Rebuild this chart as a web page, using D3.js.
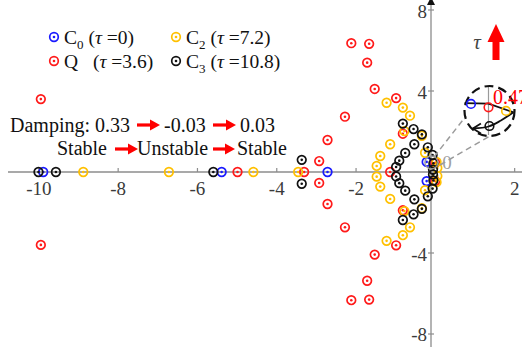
<!DOCTYPE html>
<html>
<head>
<meta charset="utf-8">
<script src="https://cdn.jsdelivr.net/npm/d3@7"></script>
<style>
  html, body { margin: 0; padding: 0; background: #fff; }
  svg { display: block; font-family: "Liberation Serif", "Times New Roman", serif; }
</style>
</head>
<body>
<svg id="chart" width="522" height="347"></svg>
<script>
// Axis ticks
const xTicks = [-10, -8, -6, -4, -2, 2];
const yTicks = [8, 4, -4, -8];

// Closed-loop poles [real, imag] for each delay
const c0Poles = [[-9.89, 0], [-5.39, 0], [-2.72, 0], [-0.22, 0.5], [-0.22, -0.45]];
const qPoles = [
  [-9.95, 3.6], [-9.95, -3.6], [-4.99, 0], [-3.31, 0], [-2.93, 0.54], [-2.93, -0.54],
  [-2.72, 1.58], [-2.72, -1.58], [-2.28, 2.73], [-2.28, -2.73], [-2.12, 6.36], [-2.12, -6.33],
  [-1.67, 6.33], [-1.67, -6.3], [-1.72, 5.4], [-1.72, -5.37], [-1.53, 4.1], [-1.53, -4.08],
  [-0.99, 3.65], [-0.99, -3.62], [-1.14, 0], [-0.82, 1.89], [-0.82, -1.89], [0.0, 0.45], [0.0, -0.45]
];
const c2Poles = [
  [-8.88, 0], [-6.72, 0], [-4.59, 0], [-3.46, 0],
  [-1.23, 3.42], [-1.23, -3.4], [-0.82, 3.18], [-0.82, -3.12], [-0.64, 2.78], [-0.64, -2.73],
  [-0.78, 2.02], [-0.78, -1.93], [-0.34, 1.79], [-0.34, -1.79], [-1.14, 1.37], [-1.14, -1.33],
  [-1.39, 0.79], [-1.39, -0.72], [-1.48, 0.3], [-1.48, -0.23], [-0.26, 0.95], [-0.26, -0.9],
  [0.03, 0.5], [0.03, -0.5], [0.05, 0.2], [0.05, -0.2]
];
const c3Poles = [
  [-10.01, 0], [-9.57, 0], [-5.6, 0], [-3.37, 0.6], [-3.37, -0.58],
  [-0.82, 2.39], [-0.82, -2.37], [-0.55, 2.12], [-0.55, -2.09], [-0.34, 1.86], [-0.34, -1.82],
  [-0.53, 1.37], [-0.53, -1.35], [-0.76, 0.94], [-0.76, -0.92], [-0.91, 0.56], [-0.91, -0.55],
  [-0.99, 0.25], [-0.99, -0.22], [-0.19, 1.22], [-0.19, -1.2], [-0.07, 0.84], [-0.07, -0.82],
  [-0.05, 0.43], [-0.05, -0.42], [-0.06, 0.12], [-0.06, -0.12]
];

const seriesColors = ["#1a1aff", "#ff1a1a", "#ffc000", "#111111"];
const seriesNames = ["C", "Q", "C", "C"];
const seriesSubs = ["0", "", "2", "3"];
const seriesTaus = ["0", "3.6", "7.2", "10.8"];

// Magnified view of the critical pole pair near the imaginary axis
const insetPoles = [[-0.073, 0.484], [0, 0.47], [0.073, 0.455], [0.004, 0.392]];
const insetTrackTop = [[-0.1, 0.487], [0.0, 0.485], [0.104, 0.449]];
const insetTrackBack = [[0.104, 0.449], [0.05, 0.414], [0.0, 0.39], [-0.065, 0.382]];
const insetLabel = "0.47";

const svg = d3.select("#chart");
const W = 522, H = 347;

const x = d3.scaleLinear().domain([-10.98, 2.185]).range([0, W]);
const y = d3.scaleLinear().domain([8.494, -8.642]).range([0, H]);
const yAxisAt = -0.11;

const axisGray = "#8c8c8c";
const labelGray = "#3a3a3a";

// Axes
const axes = svg.append("g");
axes.append("line")
  .attr("x1", 8).attr("x2", W).attr("y1", y(0)).attr("y2", y(0))
  .attr("stroke", axisGray).attr("stroke-width", 1.3);
axes.append("line")
  .attr("x1", x(yAxisAt)).attr("x2", x(yAxisAt)).attr("y1", 0).attr("y2", H)
  .attr("stroke", axisGray).attr("stroke-width", 1.3);
axes.append("path")
  .attr("d", `M${x(yAxisAt)},-3 L${x(yAxisAt) - 4},5 L${x(yAxisAt) + 4},5 Z`)
  .attr("fill", "#111");

axes.selectAll(".xt").data(xTicks).enter().append("line")
  .attr("x1", d => x(d)).attr("x2", d => x(d))
  .attr("y1", y(0)).attr("y2", y(0) - 4)
  .attr("stroke", axisGray).attr("stroke-width", 1.2);
axes.selectAll(".xl").data(xTicks).enter().append("text")
  .attr("x", d => x(d)).attr("y", y(0) + 23)
  .attr("text-anchor", "middle").attr("font-size", 19).attr("fill", labelGray)
  .text(d => d);

axes.selectAll(".yt").data(yTicks).enter().append("line")
  .attr("x1", x(yAxisAt) - 3).attr("x2", x(yAxisAt) + 3)
  .attr("y1", d => y(d)).attr("y2", d => y(d))
  .attr("stroke", axisGray).attr("stroke-width", 1.2);
axes.selectAll(".yl").data(yTicks).enter().append("text")
  .attr("x", x(yAxisAt) - 4).attr("y", d => y(d) + 7.5)
  .attr("text-anchor", "end").attr("font-size", 19).attr("fill", labelGray)
  .text(d => d);

// Pole markers: ring with a centre dot
function drawPoles(data, color) {
  const g = svg.append("g");
  const m = g.selectAll("g").data(data).enter().append("g")
    .attr("transform", d => `translate(${x(d[0])},${y(d[1])})`);
  m.append("circle").attr("r", 4.3).attr("fill", "none")
    .attr("stroke", color).attr("stroke-width", 1.7);
  m.append("circle").attr("r", 1.3).attr("fill", color);
}
[c0Poles, qPoles, c2Poles, c3Poles].forEach((p, i) => drawPoles(p, seriesColors[i]));

// Legend
const legend = svg.append("g");
const legendPos = [[54, 37], [54, 61], [176, 37], [176, 61]];
seriesNames.forEach((name, i) => {
  const [lx, ly] = legendPos[i];
  const c = seriesColors[i];
  legend.append("circle").attr("cx", lx).attr("cy", ly).attr("r", 4.3)
    .attr("fill", "none").attr("stroke", c).attr("stroke-width", 1.7);
  legend.append("circle").attr("cx", lx).attr("cy", ly).attr("r", 1.3).attr("fill", c);
  const t = legend.append("text").attr("x", lx + 10).attr("y", ly + 7)
    .attr("font-size", 19.5).attr("fill", "#111");
  t.append("tspan").text(name);
  if (seriesSubs[i]) {
    t.append("tspan").attr("font-size", 13).attr("dy", 5).text(seriesSubs[i]);
    t.append("tspan").attr("dy", -5).text(" (");
  } else {
    t.append("tspan").attr("x", lx + 39).text("(");
  }
  t.append("tspan").attr("font-style", "italic").text("τ");
  t.append("tspan").text(" =" + seriesTaus[i] + ")");
});

// Annotation text with red arrows
const red = "#ff0000";
function redArrow(x1, x2, yy) {
  svg.append("line").attr("x1", x1).attr("x2", x2 - 8).attr("y1", yy).attr("y2", yy)
    .attr("stroke", red).attr("stroke-width", 3.2);
  svg.append("path")
    .attr("d", `M${x2},${yy} L${x2 - 10},${yy - 5.5} L${x2 - 10},${yy + 5.5} Z`)
    .attr("fill", red);
}
const note = svg.append("g").attr("font-size", 20).attr("fill", "#111");
note.append("text").attr("x", 10).attr("y", 132).text("Damping: 0.33");
redArrow(137, 160, 125);
note.append("text").attr("x", 164).attr("y", 132).text("-0.03");
redArrow(213, 236, 125);
note.append("text").attr("x", 240).attr("y", 132).text("0.03");
note.append("text").attr("x", 57).attr("y", 155).text("Stable");
redArrow(115, 138, 149);
note.append("text").attr("x", 137).attr("y", 155).text("Unstable");
redArrow(213, 235, 149);
note.append("text").attr("x", 237).attr("y", 155).text("Stable");

// Zoom lens around the critical poles
const lensC = [x(-0.1), y(0.47)];
const bigC = [489.5, 111];
const bigR = 25;
svg.append("circle").attr("cx", lensC[0]).attr("cy", lensC[1]).attr("r", 6.5)
  .attr("fill", "none").attr("stroke", "#9a9a9a").attr("stroke-width", 1.3);
svg.append("line").attr("x1", 434).attr("y1", 157).attr("x2", 466).attr("y2", 116)
  .attr("stroke", "#9a9a9a").attr("stroke-width", 1.5).attr("stroke-dasharray", "6,4");
svg.append("line").attr("x1", 440).attr("y1", 165).attr("x2", 490).attr("y2", 136)
  .attr("stroke", "#9a9a9a").attr("stroke-width", 1.5).attr("stroke-dasharray", "6,4");
svg.append("text").attr("x", 447).attr("y", 168.5).attr("text-anchor", "middle")
  .attr("font-size", 19).attr("fill", "#a0a0a0").text("0");

const ix = d3.scaleLinear().domain([-0.1, 0.1]).range([464.5, 512.5]);
const iy = d3.scaleLinear().domain([0.57, 0.37]).range([83.3, 131.3]);

svg.append("line").attr("x1", ix(0)).attr("x2", ix(0)).attr("y1", bigC[1] - bigR + 1).attr("y2", bigC[1] + bigR - 1)
  .attr("stroke", "#9a9a9a").attr("stroke-width", 1.2);
svg.append("circle").attr("cx", bigC[0]).attr("cy", bigC[1]).attr("r", bigR)
  .attr("fill", "none").attr("stroke", "#111").attr("stroke-width", 2.2)
  .attr("stroke-dasharray", "9,5");

const trackLine = d3.line().x(d => ix(d[0])).y(d => iy(d[1]));
svg.append("path").attr("d", trackLine.curve(d3.curveLinear)(insetTrackTop))
  .attr("fill", "none").attr("stroke", "#111").attr("stroke-width", 1.8);
svg.append("path").attr("d", d3.line().x(d => ix(d[0])).y(d => iy(d[1])).curve(d3.curveCatmullRom)(insetTrackBack))
  .attr("fill", "none").attr("stroke", "#111").attr("stroke-width", 1.8);
const tip = insetTrackBack[insetTrackBack.length - 1];
svg.append("path")
  .attr("d", `M${ix(tip[0]) + 8},${iy(tip[1]) - 5} L${ix(tip[0])},${iy(tip[1])} L${ix(tip[0]) + 8},${iy(tip[1]) + 5}`)
  .attr("fill", "none").attr("stroke", "#111").attr("stroke-width", 1.8);

svg.selectAll(".ip").data(insetPoles).enter().append("circle")
  .attr("cx", d => ix(d[0])).attr("cy", d => iy(d[1])).attr("r", 4.3)
  .attr("fill", "none").attr("stroke", (d, i) => seriesColors[i]).attr("stroke-width", 1.6);

svg.append("text").attr("x", 493).attr("y", 104).attr("font-size", 20)
  .attr("fill", red).text(insetLabel);

// Delay direction indicator
svg.append("text").attr("x", 477).attr("y", 49).attr("text-anchor", "middle")
  .attr("font-size", 21).attr("font-style", "italic").attr("fill", "#444").text("τ");
svg.append("rect").attr("x", 492.5).attr("y", 40).attr("width", 7).attr("height", 20).attr("fill", red);
svg.append("path").attr("d", "M496,24 L504.5,42 L487.5,42 Z").attr("fill", red);
</script>
</body>
</html>
